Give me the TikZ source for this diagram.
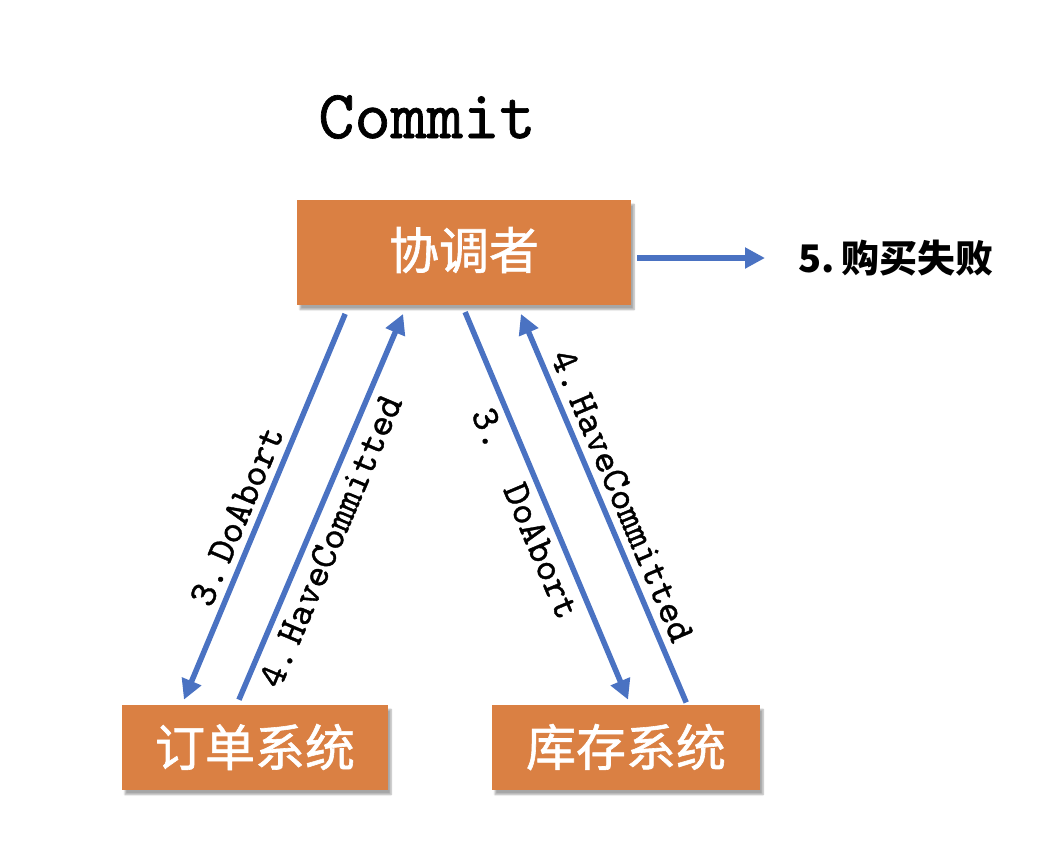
\documentclass[tikz,border=0pt]{standalone}
\usepackage{fontspec}
\newfontfamily\cjk{Noto Sans CJK SC}
\newfontfamily\cjkbox[FakeBold=1.2]{Noto Sans CJK SC}
\newfontfamily\msgfont[FakeBold=1]{lmmono10-regular.otf}
\usetikzlibrary{arrows.meta, shadows.blur}
\definecolor{boxorange}{HTML}{DA8043}
\definecolor{arrblue}{HTML}{4A72C2}

\begin{document}
\begin{tikzpicture}[x=1pt, y=-1pt,
  sys/.style = {draw=none, fill=boxorange, text=white, font=\cjkbox\fontsize{50}{50}\selectfont,
    inner sep=0pt, minimum height=85pt, blur shadow={shadow xshift=3pt, shadow yshift=-5pt, shadow blur steps=6, shadow opacity=35}},
  msg/.style = {arrblue, line width=5.5pt, -{Triangle[length=20pt, width=20pt]}},
  lbl/.style = {sloped, text=black, font=\msgfont\fontsize{39}{39}\selectfont, inner sep=7pt}]
\useasboundingbox (0,0) rectangle (1054,854);
\node (title) at (427,117) {\msgfont\fontsize{69}{69}\selectfont Commit};
\node[sys, minimum width=334pt, minimum height=105pt](coord) at (464,252) {\raisebox{8pt}{协调者}};
\node[sys, minimum width=266pt](order) at (255,747) {订单系统};
\node[sys, minimum width=268pt](stock) at (626,747) {库存系统};
\node[anchor=west, font=\cjk\bfseries\fontsize{38}{38}\selectfont](fail) at (795,258) {5.\,购买失败};
\draw[msg, shorten <=10pt, shorten >=5pt] ([xshift=-115pt]coord.south) -- ([xshift=-73pt]order.north) node[lbl, above, pos=.55]{3.\,DoAbort};
\draw[msg, shorten <=5pt, shorten >=10pt] ([xshift=-18pt]order.north) -- ([xshift=-57pt]coord.south) node[lbl, below, pos=.43]{4.\,HaveCommitted};
\draw[msg, shorten <=8pt, shorten >=5pt] ([xshift=-2pt]coord.south) -- ([xshift=4pt]stock.north) node[lbl, below, pos=.5]{3.\ \ DoAbort};
\draw[msg, shorten <=2pt, shorten >=10pt] ([xshift=61pt]stock.north) -- ([xshift=53pt]coord.south) node[lbl, above, pos=.5]{4.\,HaveCommitted};
\draw[msg] (coord.east |- fail.west) -- (fail.west) [shorten <=6pt, shorten >=30pt];
\end{tikzpicture}
\end{document}
